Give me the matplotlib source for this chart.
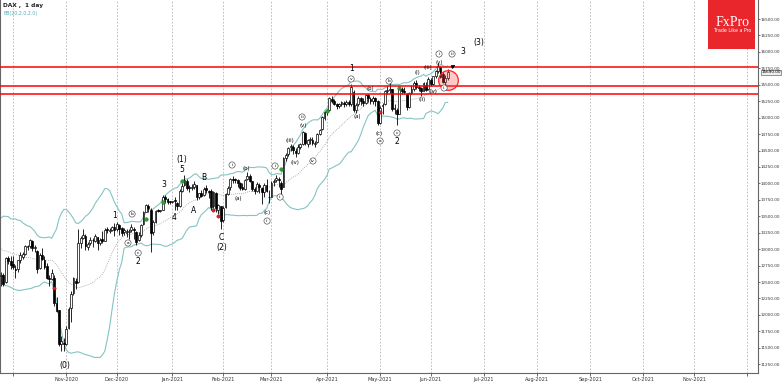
import numpy as np
import pandas as pd
import matplotlib
matplotlib.use("Agg")
import matplotlib.pyplot as plt
from matplotlib.patches import Rectangle

# daily DAX candles, one per weekday starting 24 Sep 2020
first_day = "2020-09-24"
opens = [
    12590, 12600, 12500, 12860, 12820, 12780, 12700, 12700, 12830, 12880,
    12930, 13040, 13050, 13130, 13020, 12970, 12720, 12910, 12840, 12740,
    12560, 12550, 12560, 12180, 12070, 11560, 11570, 11560, 11800, 12100,
    12330, 12520, 12500, 13090, 13170, 13200, 13040, 13100, 13140, 13130,
    13180, 13090, 13150, 13130, 13300, 13280, 13290, 13330, 13300, 13370,
    13320, 13260, 13250, 13260, 13290, 13310, 13260, 13140, 13210, 13380,
    13570, 13650, 13600, 13260, 13420, 13590, 13587, 13600, 13800, 13760,
    13720, 13718, 13750, 13700, 13660, 13890, 13970, 14040, 13940, 13930,
    13950, 13970, 13800, 13850, 13830, 13930, 13880, 13880, 13650, 13860,
    13600, 13650, 13440, 13640, 13840, 13940, 14070, 14060, 14050, 14010,
    13940, 13920, 14070, 14110, 14030, 13920, 13890, 13980, 13930, 13870,
    13980, 13800, 13800, 14020, 14050, 14070, 14000, 13950, 14390, 14440,
    14550, 14560, 14500, 14470, 14560, 14600, 14760, 14600, 14660, 14660,
    14600, 14630, 14750, 14820, 14990, 15080, 15110, 15290, 15250, 15200,
    15180, 15200, 15230, 15210, 15240, 15200, 15390, 15120, 15200, 15300,
    15250, 15220, 15340, 15290, 15250, 15300, 15260, 14920, 15170, 15200,
    15410, 15420, 15430, 15130, 15120, 15060, 15440, 15400, 15360, 15160,
    15380, 15440, 15530, 15460, 15450, 15410, 15500, 15430, 15580, 15510,
    15630, 15710, 15770, 15670, 15540, 15600,
]
highs = [
    12660, 12640, 12880, 12900, 12900, 12900, 12760, 12840, 12960, 12960,
    13060, 13070, 13160, 13140, 13060, 12990, 12940, 13020, 12900, 12790,
    12600, 12700, 12600, 12270, 12080, 11680, 11650, 11830, 12120, 12370,
    12580, 12560, 13300, 13200, 13300, 13230, 13110, 13180, 13170, 13230,
    13190, 13170, 13280, 13320, 13340, 13320, 13350, 13400, 13420, 13390,
    13340, 13320, 13300, 13300, 13380, 13330, 13280, 13260, 13380, 13580,
    13690, 13690, 13620, 13450, 13600, 13610, 13600, 13820, 13830, 13780,
    13740, 13730, 13800, 13720, 13920, 14000, 14130, 14060, 13970, 13990,
    14030, 13980, 13860, 13900, 13950, 13970, 13900, 13910, 13880, 13870,
    13680, 13660, 13650, 13860, 13960, 14080, 14110, 14080, 14070, 14020,
    14010, 14060, 14170, 14150, 14040, 13950, 14020, 14000, 13940, 14000,
    14060, 13900, 14030, 14060, 14130, 14100, 14030, 14400, 14460, 14560,
    14600, 14590, 14540, 14600, 14620, 14800, 14780, 14680, 14700, 14700,
    14640, 14760, 14830, 15020, 15100, 15130, 15320, 15330, 15290, 15230,
    15230, 15250, 15250, 15270, 15270, 15510, 15420, 15220, 15330, 15310,
    15300, 15360, 15360, 15320, 15330, 15310, 15270, 15180, 15220, 15420,
    15480, 15560, 15440, 15200, 15140, 15460, 15470, 15470, 15370, 15390,
    15500, 15560, 15580, 15500, 15470, 15540, 15540, 15620, 15610, 15640,
    15730, 15830, 15790, 15690, 15650, 15740,
]
lows = [
    12440, 12440, 12490, 12780, 12700, 12700, 12560, 12650, 12790, 12850,
    12910, 12990, 13020, 12970, 12960, 12640, 12700, 12830, 12700, 12540,
    12440, 12530, 12140, 12040, 11530, 11450, 11450, 11550, 11790, 11900,
    12300, 12390, 12480, 13020, 13150, 12990, 12980, 13060, 13040, 13110,
    12990, 13060, 13090, 13120, 13250, 13240, 13270, 13200, 13270, 13220,
    13200, 13210, 13180, 13150, 13260, 13160, 13060, 13120, 13190, 13360,
    13560, 13560, 12960, 13220, 13400, 13560, 13570, 13590, 13700, 13690,
    13690, 13700, 13600, 13600, 13640, 13870, 13960, 13900, 13870, 13900,
    13920, 13750, 13760, 13800, 13810, 13860, 13780, 13600, 13620, 13570,
    13540, 13310, 13420, 13620, 13830, 13900, 14010, 14000, 13950, 13900,
    13900, 13900, 14050, 14020, 13880, 13840, 13870, 13860, 13680, 13800,
    13870, 13700, 13790, 13960, 14020, 13950, 13820, 13940, 14340, 14420,
    14500, 14440, 14400, 14450, 14520, 14590, 14580, 14560, 14600, 14580,
    14550, 14620, 14730, 14810, 14960, 15040, 15100, 15230, 15190, 15130,
    15150, 15170, 15160, 15180, 15170, 15180, 15090, 15070, 15180, 15190,
    15170, 15200, 15240, 15210, 15200, 15180, 14890, 14900, 15060, 15190,
    15360, 15380, 15100, 15050, 14890, 15050, 15360, 15360, 15120, 15140,
    15360, 15400, 15440, 15400, 15330, 15400, 15400, 15420, 15480, 15500,
    15610, 15680, 15600, 15520, 15500, 15580,
]
closes = [
    12606, 12469, 12871, 12826, 12761, 12730, 12689, 12828, 12906, 12928,
    13042, 13051, 13138, 13018, 13028, 12703, 12908, 12854, 12736, 12558,
    12543, 12645, 12177, 12063, 11561, 11598, 11556, 11789, 12089, 12324,
    12568, 12480, 13096, 13163, 13217, 13053, 13077, 13139, 13134, 13202,
    13087, 13138, 13127, 13292, 13290, 13286, 13336, 13291, 13382, 13313,
    13252, 13298, 13271, 13278, 13340, 13296, 13114, 13223, 13363, 13565,
    13667, 13630, 13246, 13418, 13587, 13587, 13590, 13790, 13761, 13719,
    13718, 13720, 13727, 13651, 13892, 13968, 14050, 13937, 13926, 13940,
    13989, 13788, 13848, 13815, 13922, 13907, 13874, 13644, 13871, 13620,
    13665, 13433, 13622, 13835, 13933, 14060, 14057, 14059, 14011, 13933,
    13921, 14050, 14109, 14034, 13909, 13887, 13993, 13950, 13865, 13976,
    13879, 13786, 14012, 14039, 14080, 14056, 13920, 14380, 14437, 14540,
    14569, 14502, 14461, 14557, 14596, 14775, 14621, 14657, 14662, 14610,
    14621, 14748, 14817, 15008, 15080, 15107, 15300, 15250, 15212, 15176,
    15202, 15234, 15215, 15234, 15209, 15470, 15120, 15196, 15300, 15250,
    15220, 15340, 15296, 15249, 15300, 15260, 14920, 15150, 15197, 15400,
    15420, 15440, 15130, 15150, 15060, 15440, 15398, 15386, 15160, 15370,
    15437, 15530, 15465, 15450, 15406, 15520, 15421, 15590, 15510, 15630,
    15710, 15780, 15620, 15540, 15600, 15690,
]
# closes of the 19 sessions before the first candle (needed for BB(20))
warmup_closes = [13033, 12945, 12974, 13243, 12974, 12842, 13100, 12968, 13237, 13209,
                 13202, 13193, 13217, 13255, 13208, 13116, 12542, 12594, 12643]

# support / resistance lines
levels = [15775, 15487, 15355]

# wave labels: (text, bar position, price)
big_labels = [("(0)", 21.5, 11238), ("1", 42.2, 13519), ("2", 51.8, 12805), ("3", 62.5, 13976),
              ("4", 66.7, 13489), ("(1)", 70.0, 14356), ("5", 70.0, 14204), ("A", 74.9, 13595),
              ("B", 79.1, 14097), ("C", 86.1, 13185), ("(2)", 86.5, 13018), ("1", 140.0, 15740),
              ("2", 159.0, 14630), ("3", 186.3, 16013), ("(3)", 193.0, 16150)]
small_labels = [("(a)", 93.2, 13763), ("(b)", 96.5, 14234), ("(c)", 105.2, 13565),
                ("(iii)", 114.7, 14660), ("(iv)", 116.8, 14325), ("(v)", 120.1, 14873),
                ("(a)", 142.4, 15010), ("(b)", 147.8, 15436), ("(c)", 151.6, 14766),
                ("(i)", 167.3, 15679), ("(ii)", 169.4, 15283), ("(iii)", 171.8, 15770),
                ("(iv)", 173.9, 15405), ("(v)", 176.4, 15831)]
circled_labels = [("a", 47.6, 13094), ("b", 49.3, 13535), ("c", 51.8, 12942), ("i", 90.7, 14280),
                  ("ii", 105.2, 13428), ("i", 108.5, 14265), ("ii", 110.6, 13793),
                  ("iii", 119.7, 15010), ("iv", 124.2, 14341), ("v", 140.0, 15588),
                  ("a", 152.0, 14645), ("b", 155.7, 15557), ("c", 159.0, 14766),
                  ("i", 176.4, 15968), ("ii", 178.5, 15451), ("iii", 181.8, 15968)]

green_bars = [55, 62, 70, 111, 130, 160]
green_prices = [13459, 13717, 14036, 14219, 15101, 15451]
red_bars = [17, 83, 85, 152]
red_prices = [12409, 13595, 13504, 15086]

month_starts = pd.date_range("2020-10-01", "2021-12-01", freq="MS")

origin = "2020-10-01"
dates = pd.bdate_range(first_day, periods=len(closes))
x = np.array([np.busday_count(origin, d.date()) for d in dates])
o = np.array(opens, float)
h = np.array(highs, float)
l = np.array(lows, float)
c = np.array(closes, float)

all_c = pd.Series(warmup_closes + closes, dtype=float)
mid = all_c.rolling(20).mean().to_numpy()[len(warmup_closes):]
sd = all_c.rolling(20).std(ddof=0).to_numpy()[len(warmup_closes):]

fig = plt.figure(figsize=(7.82, 3.82), dpi=100)
ax = fig.add_axes([0.0, 9 / 382, 758 / 782, 373 / 382])
ax.set_xlim(-5.4, 308.5)
ax.set_ylim(11117, 16789)

month_pos = [np.busday_count(origin, m.date()) for m in month_starts]
for p in month_pos:
    ax.axvline(p, color="#b4b4b4", lw=0.6, ls=(0, (2, 2)), zorder=0)

# bollinger bands
ax.plot(x, mid + 2 * sd, color="#86c3c3", lw=0.8, zorder=1)
ax.plot(x, mid - 2 * sd, color="#86c3c3", lw=0.8, zorder=1)
ax.plot(x, mid, color="#9a9a9a", lw=0.6, ls=(0, (1, 1.5)), zorder=1)

# candles
ax.vlines(x, l, h, color="black", lw=0.6, zorder=2)
up = c >= o
body = np.maximum(np.abs(c - o), 8)
ax.bar(x[up], body[up], bottom=np.minimum(o, c)[up], width=0.75, color="white",
       edgecolor="black", lw=0.5, zorder=3)
ax.bar(x[~up], body[~up], bottom=np.minimum(o, c)[~up], width=0.75, color="black",
       edgecolor="black", lw=0.5, zorder=3)

ax.plot(green_bars, green_prices, "o", color="#2ca02c", ms=2.6, mec="#1a7a1a", mew=0.3, zorder=4)
ax.plot(red_bars, red_prices, "o", color="#e02020", ms=2.4, mec="#a00000", mew=0.3, zorder=4)

for lv in levels:
    ax.axhline(lv, color="#ff0000", lw=1.1, zorder=5)

ax.scatter([180.1], [15572], s=200, facecolor=(1, 0.3, 0.3, 0.3), edgecolor="#ff2020",
           lw=0.9, zorder=6)
ax.annotate("", xy=(184.2, 15820), xytext=(181.0, 15755),
            arrowprops=dict(arrowstyle="-|>", color="black", lw=0.8, mutation_scale=5), zorder=7)

for txt, bx, pr in big_labels:
    ax.text(bx, pr, txt, fontsize=5.5, ha="center", va="center", color="black", zorder=7)
for txt, bx, pr in small_labels:
    ax.text(bx, pr, txt, fontsize=3.8, ha="center", va="center", color="black", zorder=7)
for txt, bx, pr in circled_labels:
    ax.text(bx, pr, txt, fontsize=3.2, ha="center", va="center", color="black", zorder=7,
            bbox=dict(boxstyle="circle,pad=0.25", fc="white", ec="#333333", lw=0.4))

# axes styling
ax.spines["top"].set_visible(False)
for s in ["left", "right", "bottom"]:
    ax.spines[s].set_color("#666666")
    ax.spines[s].set_linewidth(0.8)

ax.yaxis.tick_right()
yt = np.arange(11250, 16501, 250)
ax.set_yticks(yt)
ax.set_yticklabels(["%.2f" % v for v in yt])
xl = [m.strftime("%b-%Y") for m in month_starts]
xl[0] = ""
xl[-1] = ""
ax.set_xticks(month_pos)
ax.set_xticklabels(xl)
ax.tick_params(axis="x", labelsize=3.6, colors="#333333", length=2, width=0.5, pad=1)
ax.tick_params(axis="y", labelsize=3.0, colors="#333333", length=1.5, width=0.5, pad=0.6)

# current price tag
ax.annotate("%.2f" % c[-1], xy=(1.0, c[-1]), xycoords=("axes fraction", "data"),
            xytext=(2.4, 0), textcoords="offset points", fontsize=3.0, va="center",
            ha="left", color="black",
            bbox=dict(boxstyle="square,pad=0.12", fc="#eeeeee", ec="#444444", lw=0.4),
            annotation_clip=False, zorder=8)

fig.text(3 / 782, 1 - 6 / 382, "DAX ,  1 day", fontsize=4.2, fontweight="bold",
         va="center", ha="left", color="#222222")
fig.text(4 / 782, 1 - 13 / 382, "BB(20,2.0,2.0)", fontsize=3.4, va="center", ha="left",
         color="#5aaeb4")

# FxPro badge
fig.patches.append(Rectangle((708 / 782, 1 - 49 / 382), 47 / 782, 49 / 382,
                             transform=fig.transFigure, facecolor="#e8262b",
                             edgecolor="none", zorder=10))
fig.text(733 / 782, 1 - 22 / 382, "FxPro", fontsize=10, family="Liberation Serif",
         color="white", ha="center", va="center", zorder=11)
fig.text(733 / 782, 1 - 31 / 382, "Trade Like a Pro", fontsize=3.4, color="white",
         ha="center", va="center", zorder=11)

fig.savefig("out.png", dpi=100)
